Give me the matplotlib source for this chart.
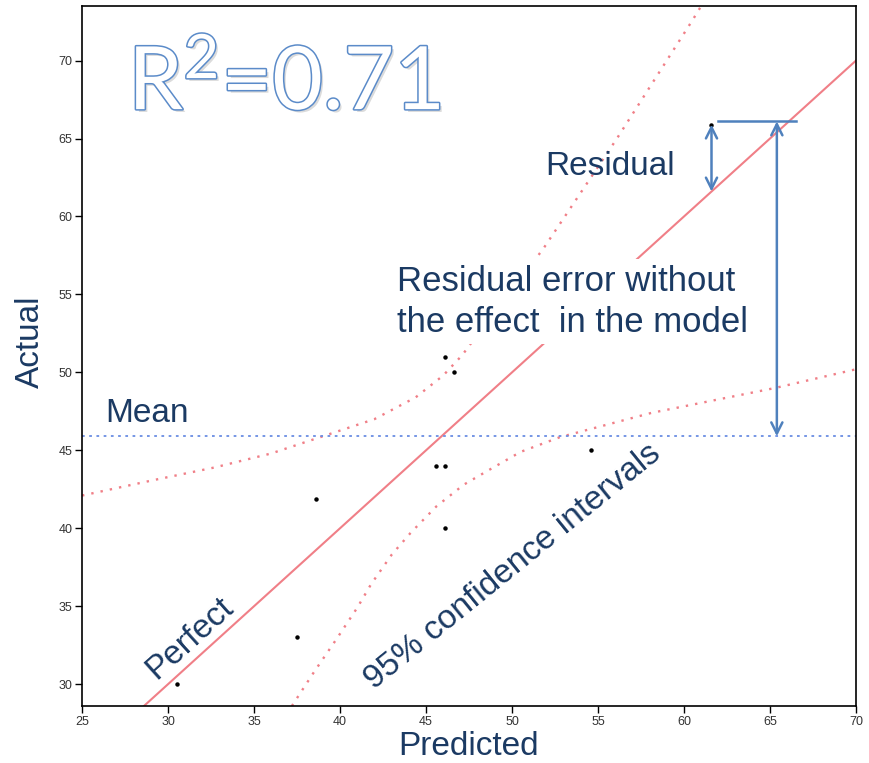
import matplotlib
matplotlib.use("Agg")
import matplotlib.pyplot as plt
import matplotlib.patheffects as pe

# Actual vs predicted values
predicted = [30.5, 37.5, 38.6, 45.6, 46.1, 46.1, 46.6, 46.1, 54.6, 61.6]
actual = [30.0, 33.0, 41.9, 44.0, 44.0, 51.0, 50.0, 40.0, 45.0, 65.9]
mean_actual = 45.9
r_squared = 0.71

# 95% confidence curves around the fit line
upper_x = [25.0, 29.2, 32.7, 36.0, 39.0, 42.0, 44.4, 46.0, 47.1, 49.0, 51.8, 56.1, 60.5, 61.0]
upper_y = [42.1, 43.1, 43.9, 44.8, 45.9, 47.0, 48.4, 49.8, 51.1, 53.9, 57.9, 65.0, 72.6, 73.5]
lower_x = [37.2, 38.5, 39.8, 41.0, 41.8, 43.0, 44.1, 45.6, 47.2, 48.6, 50.5, 52.8, 58.1, 65.3, 70.0]
lower_y = [28.6, 30.8, 32.9, 34.9, 36.4, 38.3, 39.7, 41.4, 42.8, 43.7, 44.9, 45.85, 47.4, 49.0, 50.2]

# residual of the highest point and where the big arrow sits
resid_x = 61.6
resid_top = 65.9
big_arrow_x = 65.4
top_line_x = [62.0, 66.5]
top_line_y = 66.1

xticks = [25, 30, 35, 40, 45, 50, 55, 60, 65, 70]
yticks = [30, 35, 40, 45, 50, 55, 60, 65, 70]

navy = "#1b3a63"
salmon = "#f07f87"
arrow_blue = "#4f81bd"

plt.rcParams["font.family"] = ["Liberation Sans", "DejaVu Sans"]

fig = plt.figure(figsize=(8.69, 7.63), dpi=100)
ax = fig.add_axes([0.0944, 0.0747, 0.8906, 0.9174])

ax.set_xlim(25, 70)
ax.set_ylim(28.6, 73.5)

# perfect-fit diagonal
ax.plot([25, 70], [25, 70], color=salmon, lw=1.5, zorder=2)
ax.plot(upper_x, upper_y, color=salmon, lw=1.7, ls=(0, (1, 3)), zorder=2)
ax.plot(lower_x, lower_y, color=salmon, lw=1.7, ls=(0, (1, 3)), zorder=2)
ax.axhline(mean_actual, color="#6a8de3", lw=1.3, ls=(0, (1.5, 2.5)), zorder=2)

ax.plot(predicted, actual, "o", color="black", ms=2.2, zorder=3)

ax.set_xticks(xticks)
ax.set_yticks(yticks)
ax.tick_params(direction="out", length=5, width=1, colors="black",
               labelcolor="#333333", labelsize=9, pad=2)
for s in ax.spines.values():
    s.set_linewidth(1.2)

ax.set_xlabel("Predicted", fontsize=24, color=navy)
ax.xaxis.set_label_coords(0.5, -0.036)
ax.set_ylabel("Actual", fontsize=24, color=navy)
ax.yaxis.set_label_coords(-0.046, 0.52)

# R squared headline, outlined letters
ax.text(27.68, 66.84, r"$\mathregular{R^2}$=%.2f" % r_squared, fontsize=63,
        family="Lato", color="white", ha="left", va="baseline", zorder=6,
        path_effects=[pe.SimplePatchShadow(offset=(2, -2), shadow_rgbFace="#888888", alpha=0.3),
                      pe.Stroke(linewidth=2.2, foreground="#5b8bc9"), pe.Normal()])

ax.text(26.34, 46.8, "Mean", fontsize=24, color=navy, ha="left", va="baseline")
ax.text(51.95, 62.67, "Residual", fontsize=24, color=navy, ha="left", va="baseline")
ax.text(43.33, 56.9, "Residual error without\nthe effect  in the model", fontsize=25,
        color=navy, ha="left", va="top", linespacing=1.3, zorder=5,
        bbox=dict(facecolor="white", edgecolor="none", pad=4))
ax.text(31.29, 32.95, "Perfect", fontsize=24, color=navy, rotation=42,
        rotation_mode="anchor", ha="center", va="center")
ax.text(50.03, 37.57, "95% confidence intervals", fontsize=24, color=navy, rotation=39,
        rotation_mode="anchor", ha="center", va="center")

# residual arrows
arrow_kw = dict(arrowstyle="<->,head_length=0.8,head_width=0.4", color=arrow_blue,
                lw=1.8, shrinkA=0, shrinkB=0)
ax.annotate("", xy=(resid_x, resid_x), xytext=(resid_x, resid_top), arrowprops=arrow_kw, zorder=6)
ax.annotate("", xy=(big_arrow_x, mean_actual), xytext=(big_arrow_x, top_line_y),
            arrowprops=arrow_kw, zorder=6)
ax.plot(top_line_x, [top_line_y, top_line_y], color=arrow_blue, lw=1.8, zorder=6)

fig.savefig("out.png", dpi=100)
